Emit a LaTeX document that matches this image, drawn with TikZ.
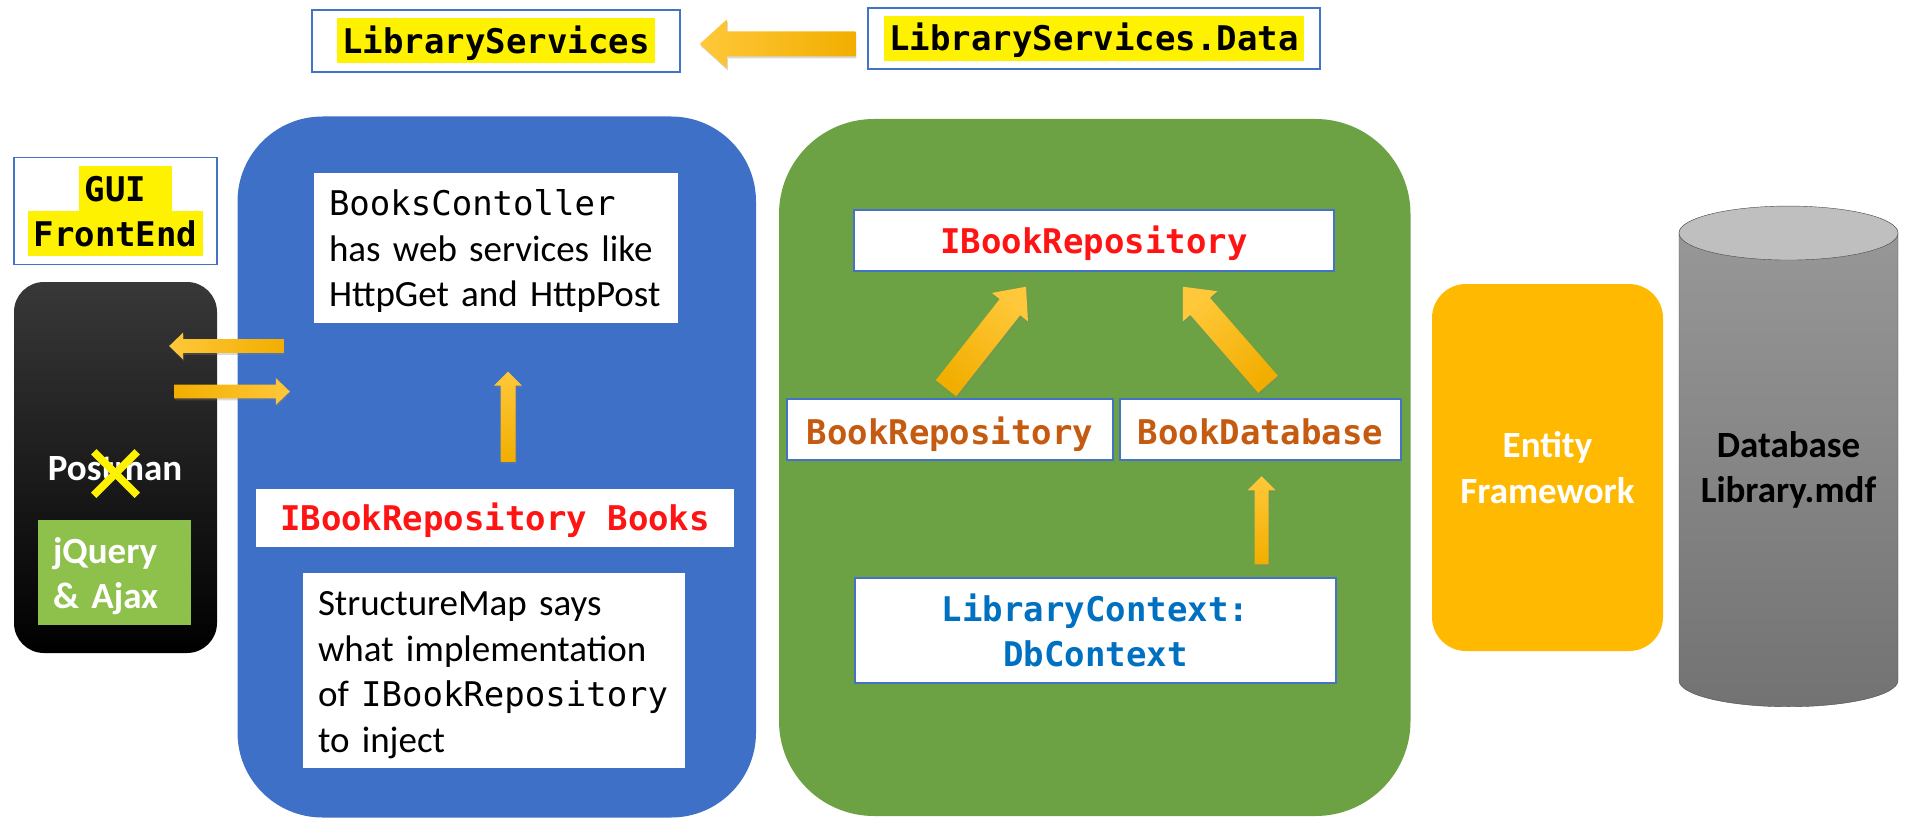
\documentclass[tikz,border=0pt]{standalone}
\usepackage{fontspec}
\setmainfont{Carlito}
\newfontfamily\monofam{DejaVu Sans Mono}
\usetikzlibrary{calc,shapes.geometric,shapes.misc,shadows}
\definecolor{boxblue}{HTML}{4472C4}
\definecolor{restblue}{HTML}{3F70C7}
\definecolor{dalgreen}{HTML}{6CA243}
\definecolor{efgold}{HTML}{FFB900}
\definecolor{jqgreen}{HTML}{8EC04C}
\definecolor{hlyellow}{HTML}{FFF200}
\definecolor{implbrown}{HTML}{C55A11}
\definecolor{ctxblue}{HTML}{0070C0}
\definecolor{ifacered}{HTML}{FF1414}
\definecolor{arrowlight}{HTML}{FFC83A}
\definecolor{arrowmid}{HTML}{FFBE0A}
\definecolor{arrowdark}{HTML}{F2AE00}
\newcommand{\bodyfont}{\fontsize{37}{45.5}\selectfont}
\newcommand{\codefont}{\fontsize{34}{45}\monofam}
\newcommand{\hlcode}[1]{{\setlength{\fboxsep}{0pt}\colorbox{hlyellow}{\rule[-10pt]{0pt}{45pt}\,#1\,}}}
\tikzset{%
    codebox/.style={%
        rectangle, draw=boxblue, fill=white, line width=1.5pt, inner sep=0pt, align=center, font=\codefont\bfseries
    },
    oneline/.style={%
        text height=32pt, text depth=7pt
    },
    plainbox/.style={%
        rectangle, fill=white, inner sep=0pt, align=left, font=\bodyfont
    },
    lowtext/.style={%
        execute at begin node={\rule{0pt}{33pt}}
    },
    layer/.style={%
        rectangle, inner sep=0pt
    },
    bigarrow/.style n args={3}{%
        draw=none, top color=arrowlight, middle color=arrowmid, bottom color=arrowdark,
        drop shadow={opacity=0.3, shadow xshift=1pt, shadow yshift=-2pt},
        to path={%
          let \p1=($(\tikztotarget)!#3pt!(\tikztostart)$) in
          ($(\tikztostart)!#1pt!90:(\tikztotarget)$) -- ($(\p1)!#1pt!90:(\tikztotarget)$)
          -- ($(\p1)!#2pt!90:(\tikztotarget)$) -- (\tikztotarget)
          -- ($(\p1)!#2pt!-90:(\tikztotarget)$) -- ($(\p1)!#1pt!-90:(\tikztotarget)$)
          -- ($(\tikztostart)!#1pt!-90:(\tikztotarget)$) -- cycle
        }
    },
}

\begin{document}
\begin{tikzpicture}[x=1pt,y=-1pt]
      \useasboundingbox (0,0) rectangle (1906,824);

      % project names
      \node[codebox, minimum width=368, minimum height=62] (libsvc) at (496,41) {\hlcode{LibraryServices}};
      \node[codebox, minimum width=452, minimum height=61] (libdata) at (1094,38.5) {\hlcode{LibraryServices.Data}};
      \node[codebox, minimum width=203, minimum height=107] (gui) at (115.5,211) {\hspace*{20pt}\hlcode{GUI\ }\\\hlcode{FrontEnd}};

      % client
      \node[layer, minimum width=203, minimum height=371, rounded corners=30pt, top color=black!78, middle color=black, bottom color=black] (phone) at (115.5,467.5) {};
      \node[text=white, font=\bodyfont\bfseries, inner sep=0pt] (postman) at (115,469) {Postman};
      \node[cross out, draw=hlyellow, line width=7.5pt, minimum width=36, minimum height=36, inner sep=0pt] (postmanx) at (115.5,473.5) {};
      \node[layer, lowtext, fill=jqgreen, text=white, font=\bodyfont\bfseries, align=left, minimum width=153, minimum height=105, text width=123] (jquery) at (114.5,572.5) {jQuery\\\& Ajax};

      % web services
      \node[layer, fill=restblue, minimum width=518.5, minimum height=701, rounded corners=85pt] (rest) at (496.75,467) {};
      \node[plainbox, lowtext, minimum width=364, minimum height=150, text width=334] (controller) at (496,247.5) {{\codefont BooksContoller}\\has web services like\\HttpGet and HttpPost};
      \node[plainbox, oneline, align=center, text=ifacered, minimum width=478, minimum height=58, font=\codefont\bfseries] (books) at (495,518) {IBookRepository Books};
      \node[plainbox, lowtext, minimum width=382, minimum height=195, text width=352] (structmap) at (494,670.5) {StructureMap says\\what implementation\\of {\codefont IBookRepository}\\to inject};

      % data access
      \node[layer, fill=dalgreen, minimum width=631.5, minimum height=697, rounded corners=95pt] (dal) at (1094.75,467.5) {};
      \node[codebox, oneline, text=ifacered, minimum width=480, minimum height=61] (irepo) at (1094,240.5) {IBookRepository};
      \node[codebox, oneline, text height=36pt, text=implbrown, minimum width=326, minimum height=61] (repo) at (950,429.5) {BookRepository};
      \node[codebox, oneline, text height=36pt, text=implbrown, minimum width=281, minimum height=61] (bookdb) at (1260.5,429.5) {BookDatabase};
      \node[codebox, text=ctxblue, minimum width=481, minimum height=105] (ctx) at (1095.5,630.5) {LibraryContext:\\DbContext};

      % storage
      \node[layer, fill=efgold, text=white, font=\bodyfont\bfseries, align=center, minimum width=231, minimum height=367, rounded corners=34pt] (ef) at (1547.5,467.5) {Entity\\Framework};
      \node[cylinder, lowtext, shape border rotate=90, aspect=0.3, draw=black!70, top color=black!40, bottom color=black!55, inner sep=0pt, minimum width=219, minimum height=500, align=center, font=\bodyfont\bfseries] (db) at (1788.5,470) {Database\\Library.mdf};
      \node[ellipse, draw=black!70, fill=black!25, inner sep=0pt, minimum width=219, minimum height=54] (dbtop) at ($(db.before top)!.5!(db.after top)$) {};

      \draw[bigarrow={12.5}{24.5}{27}, shading angle=90] ([shift={(-12,5.5)}]libdata.west) to ([shift={(19,3)}]libsvc.east);
      \draw[bigarrow={6.8}{13.5}{14}, shading angle=90] ([shift={(46,-121)}]rest.west) to ([shift={(-48,-121.5)}]phone.east);
      \draw[bigarrow={6.8}{13.5}{14}, shading angle=-90] ([shift={(-43,-76)}]phone.east) to ([shift={(52.5,-75.5)}]rest.west);
      \draw[bigarrow={7.5}{14}{14}] ([shift={(13,-27)}]books.north) to ([shift={(12,49)}]controller.south);
      \draw[bigarrow={13}{23}{26}, shading angle=-38] ([shift={(-4,-10)}]repo.north) to ([shift={(-68,15)}]irepo.south);
      \draw[bigarrow={13}{23}{26}, shading angle=45] ([shift={(7.5,-14)}]bookdb.north) to ([shift={(89,15)}]irepo.south);
      \draw[bigarrow={7}{14}{14}] ([shift={(166,-13)}]ctx.north) to ([shift={(1,15.5)}]bookdb.south);
    \end{tikzpicture}
\end{document}
